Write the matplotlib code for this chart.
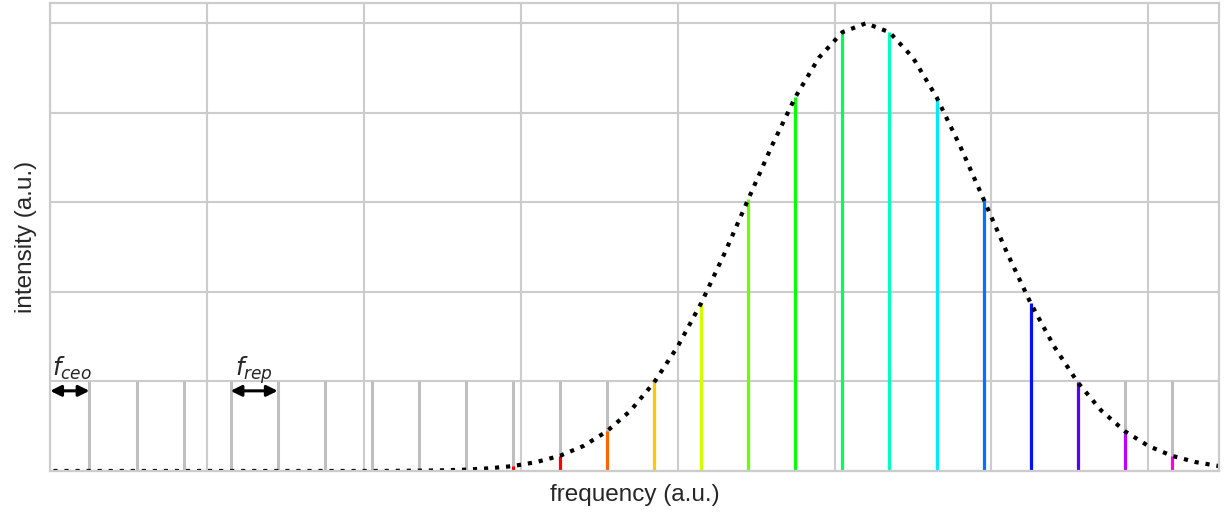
import matplotlib
matplotlib.use('Agg')
import matplotlib.pyplot as plt
import seaborn as sns
import numpy as np

# comb line positions (a.u.), f_ceo = 2.5, f_rep = 3
comb_freq = [2.5, 5.5, 8.5, 11.5, 14.5, 17.5, 20.5, 23.5, 26.5, 29.5, 32.5, 35.5, 38.5,
             41.5, 44.5, 47.5, 50.5, 53.5, 56.5, 59.5, 62.5, 65.5, 68.5, 71.5, 74.5]
comb_base = [0.2] * 25

# intensity of each comb line under the pulse envelope
comb_int = [0.0, 0.0, 0.0, 0.0, 0.0, 0.0, 0.0, 0.0007, 0.003,
            0.011, 0.034, 0.089, 0.198, 0.375, 0.607, 0.835, 0.980,
            0.980, 0.835, 0.607, 0.375, 0.198, 0.089, 0.034, 0.011]
# hue of the visible lines (index 9 onwards), red -> magenta
comb_hue = [0.0, 0.0, 0.067, 0.133, 0.2, 0.267, 0.333, 0.4, 0.467,
            0.52, 0.6, 0.667, 0.733, 0.8, 0.867, 0.933]

# spectral envelope
env_x = [-0.5, 1.0, 2.5, 4.0, 5.5, 7.0, 8.5, 10.0, 11.5, 13.0, 14.5, 16.0, 17.5, 19.0,
         20.5, 22.0, 23.5, 25.0, 26.5, 28.0, 29.5, 31.0, 32.5, 34.0, 35.5, 37.0, 38.5,
         40.0, 41.5, 43.0, 44.5, 46.0, 47.5, 49.0, 50.5, 52.0, 53.5, 55.0, 56.5, 58.0,
         59.5, 61.0, 62.5, 64.0, 65.5, 67.0, 68.5, 70.0, 71.5, 73.0, 74.5, 76.0]
env_y = [0.0, 0.0, 0.0, 0.0, 0.0, 0.0, 0.0, 0.0, 0.0, 0.0, 0.0, 0.0, 0.0, 0.0,
         0.0, 0.0003, 0.0007, 0.0015, 0.003, 0.006, 0.011, 0.020, 0.034, 0.056, 0.089,
         0.135, 0.198, 0.278, 0.375, 0.487, 0.607, 0.726, 0.835, 0.923, 0.980, 1.0,
         0.980, 0.923, 0.835, 0.726, 0.607, 0.487, 0.375, 0.278, 0.198, 0.135, 0.089,
         0.056, 0.034, 0.020, 0.011, 0.006]


def main():
    sns.set_style('whitegrid')
    plt.rcParams['font.family'] = ['Liberation Sans', 'DejaVu Sans']
    plt.rcParams['grid.linewidth'] = 1.5
    plt.rcParams['axes.linewidth'] = 1.6

    fig = plt.figure(figsize=(12.25, 5.17), dpi=100)
    ax = fig.add_axes([0.041, 0.089, 0.954, 0.905])

    # grey comb teeth, then coloured part under the envelope
    # (kept below the spines so the flat tail sinks into the bottom axis)
    ax.vlines(comb_freq, 0, comb_base, colors='#bfbfbf', lw=2.2, zorder=2.0)
    cols = plt.cm.hsv(np.array(comb_hue))
    ax.vlines(comb_freq[9:], 0, comb_int[9:], colors=cols, lw=2.3, zorder=2.1)

    ax.plot(env_x, env_y, 'k:', lw=3, zorder=2.2)

    # f_ceo and f_rep markers
    arr = dict(arrowstyle='<|-|>', color='k', lw=2.2, mutation_scale=16,
               shrinkA=0, shrinkB=0)
    ax.annotate('', xy=(0.0, 0.179), xytext=(2.5, 0.179), arrowprops=arr, zorder=5)
    ax.annotate('', xy=(11.5, 0.179), xytext=(14.5, 0.179), arrowprops=arr, zorder=5)
    ax.text(0.1, 0.212, r'$f_{ceo}$', fontsize=17.5, va='baseline')
    ax.text(11.8, 0.212, r'$f_{rep}$', fontsize=17.5, va='baseline')

    ax.set_xlim(0, 74.5)
    ax.set_ylim(0, 1.045)
    ax.set_xticks(np.arange(0, 75, 10))
    ax.set_yticks(np.arange(0, 1.01, 0.2))
    ax.set_xticklabels([])
    ax.set_yticklabels([])
    ax.tick_params(length=0)

    ax.set_xlabel('frequency (a.u.)', fontsize=17.5, labelpad=6)
    ax.set_ylabel('intensity (a.u.)', fontsize=17.5, labelpad=6)

    fig.savefig('out.png')


if __name__ == '__main__':
    main()
